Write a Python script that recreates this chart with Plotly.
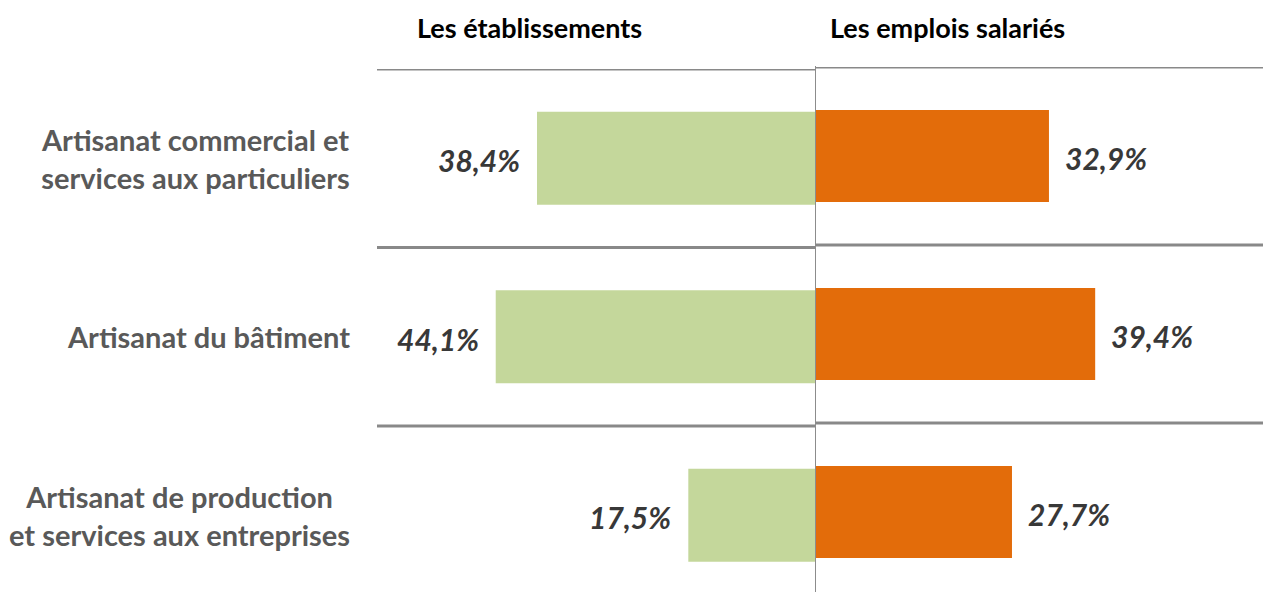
import plotly.graph_objects as go

categories = [
    "Artisanat commercial et<br>services aux particuliers",
    "Artisanat du bâtiment",
    "Artisanat de production<br>et services aux entreprises",
]
etablissements = [38.4, 44.1, 17.5]
emplois = [32.9, 39.4, 27.7]
headers = ["Les établissements", "Les emplois salariés"]

W, H = 1263, 592
FONT = "Lato, 'Open Sans', sans-serif"
GREEN = "#C4D79B"
ORANGE = "#E36C0A"
GRID = "#898989"
pos = list(range(len(categories)))

def px(x):
    return x / W

def py(y):
    return 1 - y / H

fig = go.Figure()
fig.add_trace(go.Bar(x=etablissements, y=pos, orientation="h", width=0.52,
                     marker=dict(color=GREEN, line=dict(width=0)),
                     xaxis="x", yaxis="y", hoverinfo="skip"))
fig.add_trace(go.Bar(x=emplois, y=pos, orientation="h", width=0.517,
                     marker=dict(color=ORANGE, line=dict(width=0)),
                     xaxis="x2", yaxis="y2", hoverinfo="skip"))

ax = dict(showticklabels=False, showgrid=False, zeroline=False, showline=False, ticks="")
fig.update_layout(
    width=W, height=H,
    margin=dict(l=0, r=0, t=0, b=0),
    paper_bgcolor="white", plot_bgcolor="white",
    showlegend=False,
    xaxis=dict(domain=[px(377), px(815)], range=[60.5, 0], anchor="y", **ax),
    yaxis=dict(domain=[0, py(69)], range=[-0.5 + 523 / 178.5, -0.5], anchor="x", **ax),
    xaxis2=dict(domain=[px(815), 1], range=[0, 63.0], anchor="y2", **ax),
    yaxis2=dict(domain=[0, py(67)], range=[-0.5 + 525 / 178, -0.5], anchor="x2", **ax),
)

shapes = []
for b in [-0.5, 0.5, 1.5]:
    shapes.append(dict(type="line", xref="x domain", yref="y", x0=0, x1=1, y0=b, y1=b,
                       line=dict(color=GRID, width=3)))
    shapes.append(dict(type="line", xref="x2 domain", yref="y2", x0=0, x1=1, y0=b, y1=b,
                       line=dict(color=GRID, width=3)))
shapes.append(dict(type="line", xref="paper", yref="paper", x0=px(815.5), x1=px(815.5),
                   y0=py(66), y1=0, line=dict(color="#8C8C8C", width=1)))
fig.update_layout(shapes=shapes)

ann = []
for i, c in enumerate(categories):
    ann.append(dict(text=c, xref="paper", yref="y", x=px(352), y=i, xanchor="right",
                    yanchor="middle", align="center", showarrow=False,
                    font=dict(family=FONT, size=29, color="#595959", weight="bold")))
for i, v in enumerate(etablissements):
    ann.append(dict(text=f"{v:.1f}%".replace(".", ","), xref="x", yref="y", x=v, y=i,
                    xanchor="right", yanchor="middle", xshift=-15, yshift=-2, showarrow=False,
                    font=dict(family=FONT, size=30, color="#383838", weight="bold", style="italic")))
for i, v in enumerate(emplois):
    ann.append(dict(text=f"{v:.1f}%".replace(".", ","), xref="x2", yref="y2", x=v, y=i,
                    xanchor="left", yanchor="middle", xshift=14, yshift=-2, showarrow=False,
                    font=dict(family=FONT, size=30, color="#383838", weight="bold", style="italic")))
for h, xc in zip(headers, [529, 947.5]):
    ann.append(dict(text=h, xref="paper", yref="paper", x=px(xc), y=py(28), xanchor="center",
                    yanchor="middle", showarrow=False,
                    font=dict(family=FONT, size=27, color="#000000", weight="bold")))
fig.update_layout(annotations=ann)

fig.write_html("out.html", config={"displayModeBar": False},
               post_script="document.body.style.margin='0';")
